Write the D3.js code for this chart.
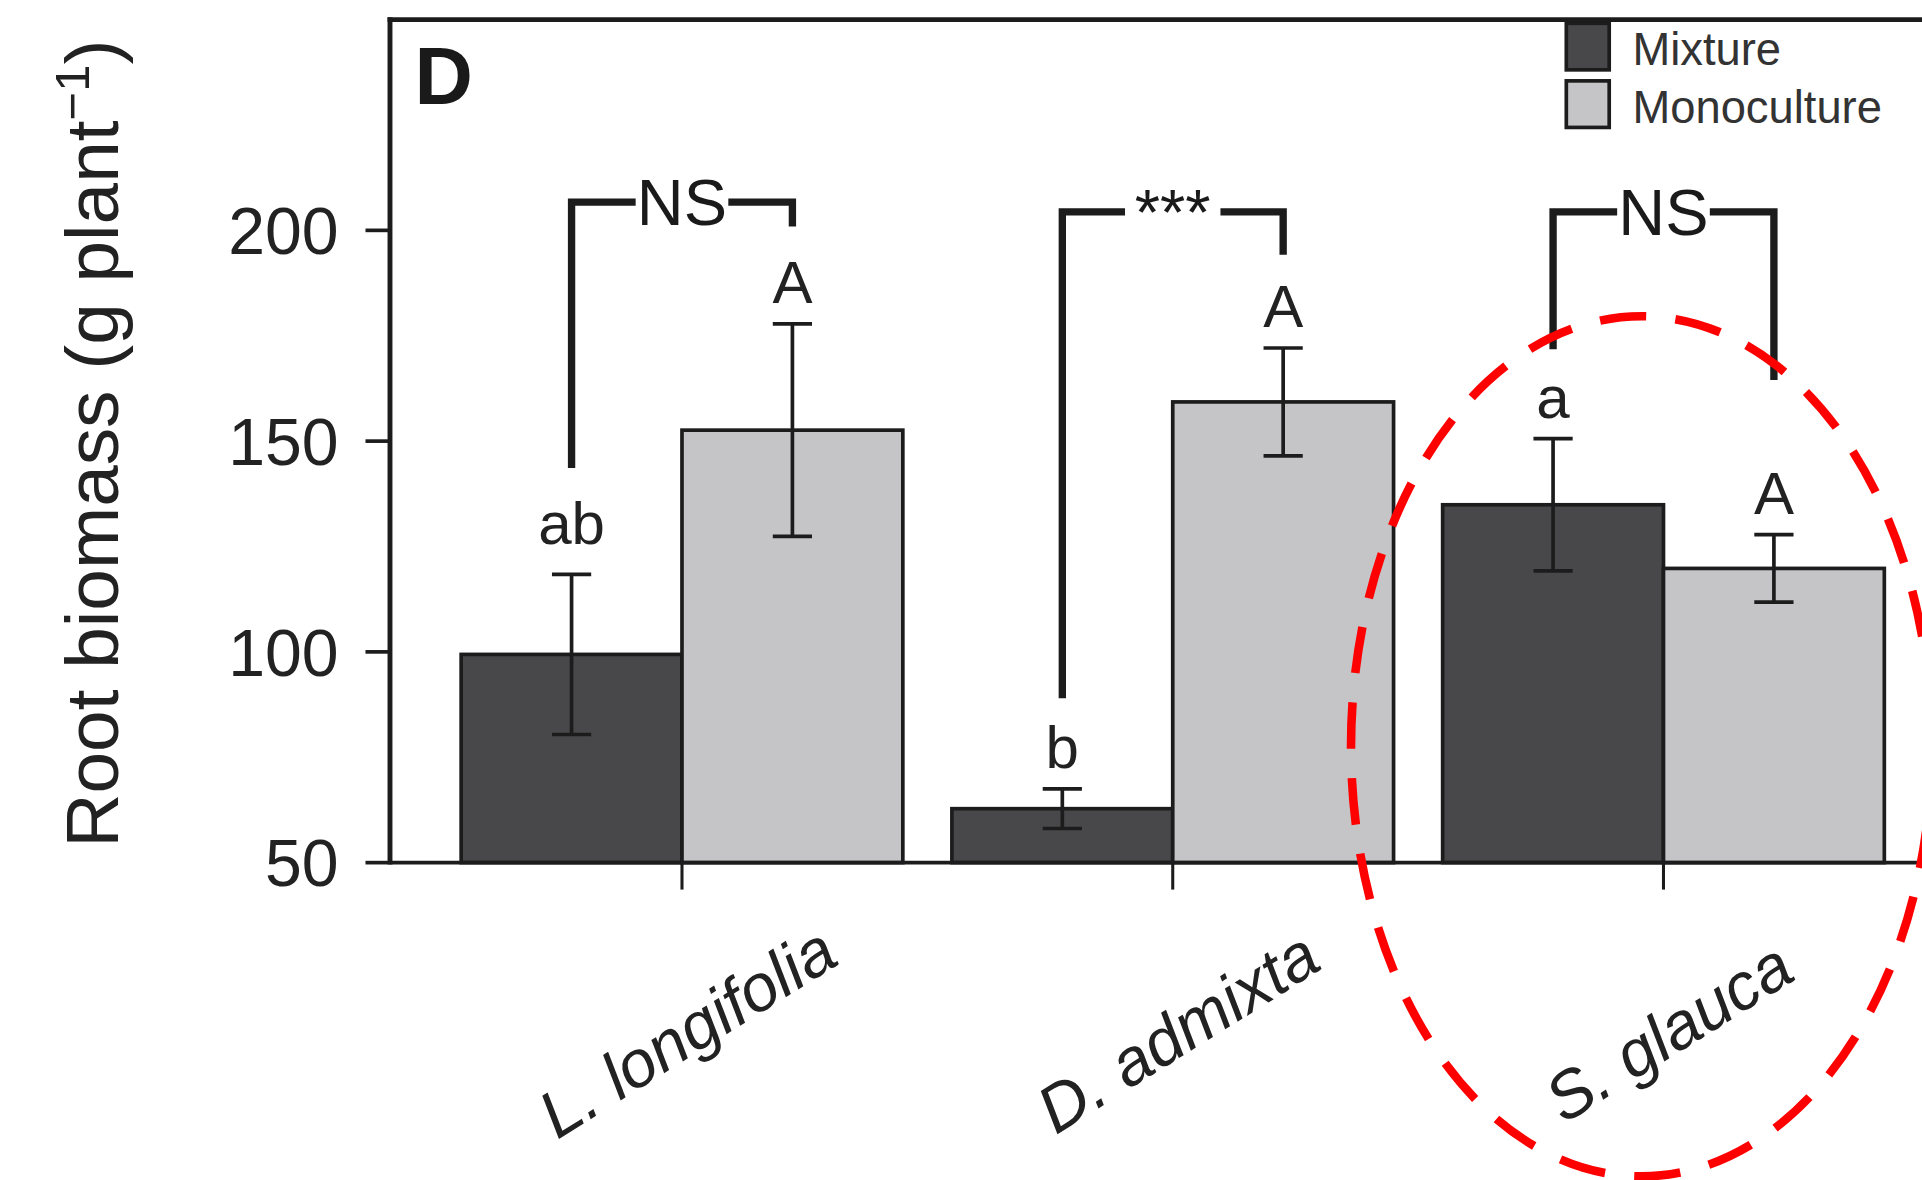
<!DOCTYPE html>
<html>
<head>
<meta charset="utf-8">
<script src="https://cdn.jsdelivr.net/npm/d3@7"></script>
<style>
html, body { margin: 0; padding: 0; background: #fff; }
svg { display: block; font-family: "Liberation Sans", Arial, Helvetica, sans-serif; }
</style>
</head>
<body>
<script>
// Root biomass, panel D: mixture vs monoculture per species

// ---- data ----
var species = ["L. longifolia", "D. admixta", "S. glauca"];
var treatments = ["Mixture", "Monoculture"];
var mixtureMean = [99.4, 62.8, 134.9];
var mixtureErr = [19.0, 4.7, 15.7];
var monoMean = [152.6, 159.3, 119.8];
var monoErr = [25.2, 12.8, 8.0];
var mixtureLetters = ["ab", "b", "a"];
var monoLetters = ["A", "A", "A"];
var sigLabels = ["NS", "***", "NS"];
var bracketTop = [206.7, 204.4, 204.4];
var bracketLeftEnd = [143.6, 89.0, 171.8];
var bracketRightEnd = [200.9, 194.2, 164.5];
var yTicks = [50, 100, 150, 200];

// drawing is laid out on a 1568 x 963 grid, then scaled up to the window
var W = 1568, H = 963;
var plotLeft = 318, plotTop = 16, plotBottom = 704;

var svg = d3.select("body").append("svg")
    .attr("width", 1922)
    .attr("height", 1180)
    .attr("viewBox", "0 0 " + W + " " + H);

var y = d3.scaleLinear().domain([50, 250]).range([plotBottom, plotTop]);

var x0 = d3.scaleBand()
    .domain(species)
    .range([plotLeft, 1595.6])
    .paddingInner(0.1)
    .paddingOuter(0.145);

var x1 = d3.scaleBand()
    .domain(treatments)
    .range([0, x0.bandwidth()]);

var fills = { "Mixture": "#48484a", "Monoculture": "#c5c5c8" };
var ink = "#1c1c1c";

var rows = [];
species.forEach(function(s, i) {
    rows.push({ sp: s, tr: "Mixture", mean: mixtureMean[i], err: mixtureErr[i], letter: mixtureLetters[i] });
    rows.push({ sp: s, tr: "Monoculture", mean: monoMean[i], err: monoErr[i], letter: monoLetters[i] });
});

function cx(d) { return x0(d.sp) + x1(d.tr) + x1.bandwidth() / 2; }

// bars
svg.append("g").selectAll("rect")
    .data(rows)
    .enter().append("rect")
    .attr("x", function(d) { return x0(d.sp) + x1(d.tr); })
    .attr("y", function(d) { return y(d.mean); })
    .attr("width", x1.bandwidth())
    .attr("height", function(d) { return y(50) - y(d.mean); })
    .attr("fill", function(d) { return fills[d.tr]; })
    .attr("stroke", ink)
    .attr("stroke-width", 3);

// error bars
var eb = svg.append("g").attr("stroke", ink).attr("stroke-width", 3);
rows.forEach(function(d) {
    var xc = cx(d);
    eb.append("line").attr("x1", xc).attr("x2", xc)
        .attr("y1", y(d.mean + d.err)).attr("y2", y(d.mean - d.err));
    eb.append("line").attr("x1", xc - 16).attr("x2", xc + 16)
        .attr("y1", y(d.mean + d.err)).attr("y2", y(d.mean + d.err));
    eb.append("line").attr("x1", xc - 16).attr("x2", xc + 16)
        .attr("y1", y(d.mean - d.err)).attr("y2", y(d.mean - d.err));
});

// letters above error bars
svg.append("g").selectAll("text")
    .data(rows)
    .enter().append("text")
    .attr("x", cx)
    .attr("y", function(d) { return y(d.mean + d.err) - (d.letter == "ab" ? 25 : 17); })
    .attr("text-anchor", "middle")
    .attr("font-size", 49)
    .attr("fill", "#222")
    .text(function(d) { return d.letter; });

// significance brackets
species.forEach(function(s, i) {
    var xl = x0(s) + x1("Mixture") + x1.bandwidth() / 2;
    var xr = x0(s) + x1("Monoculture") + x1.bandwidth() / 2;
    var by = y(bracketTop[i]);
    var xm = (xl + xr) / 2;

    var lab = svg.append("text")
        .attr("x", xm)
        .attr("y", by + 19)
        .attr("text-anchor", "middle")
        .attr("font-size", 53)
        .attr("fill", "#1a1a1a")
        .text(sigLabels[i]);
    var tw = lab.node().getComputedTextLength();
    var pad = sigLabels[i] == "***" ? 8 : 1;

    svg.append("path")
        .attr("d", "M" + xl + "," + y(bracketLeftEnd[i]) + "V" + by + "H" + (xm - tw / 2 - pad))
        .attr("fill", "none").attr("stroke", ink).attr("stroke-width", 6)
        .attr("stroke-linejoin", "miter");
    svg.append("path")
        .attr("d", "M" + (xm + tw / 2 + pad) + "," + by + "H" + xr + "V" + y(bracketRightEnd[i]))
        .attr("fill", "none").attr("stroke", ink).attr("stroke-width", 6)
        .attr("stroke-linejoin", "miter");
});

// frame: top and left lines, x axis line
svg.append("line").attr("x1", plotLeft - 2).attr("x2", W + 40).attr("y1", plotTop).attr("y2", plotTop)
    .attr("stroke", ink).attr("stroke-width", 4);
svg.append("line").attr("x1", plotLeft).attr("x2", plotLeft).attr("y1", plotTop - 2).attr("y2", plotBottom + 1.5)
    .attr("stroke", ink).attr("stroke-width", 4);
svg.append("line").attr("x1", plotLeft).attr("x2", W + 40).attr("y1", plotBottom).attr("y2", plotBottom)
    .attr("stroke", ink).attr("stroke-width", 3);

// y axis ticks + labels
var yAxis = svg.append("g");
yTicks.forEach(function(t) {
    yAxis.append("line").attr("x1", plotLeft - 20).attr("x2", plotLeft)
        .attr("y1", y(t)).attr("y2", y(t))
        .attr("stroke", ink).attr("stroke-width", 3);
    yAxis.append("text")
        .attr("x", plotLeft - 42)
        .attr("y", y(t))
        .attr("dy", "0.36em")
        .attr("text-anchor", "end")
        .attr("font-size", 54)
        .attr("fill", "#222")
        .text(t);
});

// x ticks + rotated italic labels
species.forEach(function(s) {
    var xc = x0(s) + x0.bandwidth() / 2;
    svg.append("line").attr("x1", xc).attr("x2", xc)
        .attr("y1", plotBottom).attr("y2", plotBottom + 22)
        .attr("stroke", ink).attr("stroke-width", 2.5);
    svg.append("text")
        .attr("transform", "translate(" + (xc + 4) + "," + 842 + ") rotate(-32)")
        .attr("text-anchor", "middle")
        .attr("dy", "0.35em")
        .attr("font-size", 54)
        .attr("font-style", "italic")
        .attr("fill", "#222")
        .text(s);
});

// y title
var yTitle = svg.append("text")
    .attr("transform", "translate(96," + 362 + ") rotate(-90)")
    .attr("text-anchor", "middle")
    .attr("font-size", 61)
    .attr("fill", "#222");
yTitle.append("tspan").text("Root biomass (g plant");
yTitle.append("tspan").attr("dy", -24).attr("font-size", 40).text("\u22121");
yTitle.append("tspan").attr("dy", 24).text(")");

// panel letter
svg.append("text")
    .attr("x", 338).attr("y", 85)
    .attr("font-size", 66)
    .attr("font-weight", "bold")
    .attr("fill", "#1a1a1a")
    .text("D");

// legend
var lg = svg.append("g");
treatments.forEach(function(t, i) {
    lg.append("rect")
        .attr("x", 1278).attr("y", 19 + i * 47)
        .attr("width", 35).attr("height", 38)
        .attr("fill", fills[t]).attr("stroke", ink).attr("stroke-width", 3);
    lg.append("text")
        .attr("x", 1332).attr("y", 40 + i * 47)
        .attr("dy", "0.36em")
        .attr("font-size", 37)
        .attr("fill", "#333")
        .text(t);
});

// red dashed ellipse annotation around S. glauca
svg.append("ellipse")
    .attr("cx", x0("S. glauca") + x0.bandwidth() / 2 - 18)
    .attr("cy", y(77.6))
    .attr("rx", 237)
    .attr("ry", 351)
    .attr("fill", "none")
    .attr("stroke", "#ff0000")
    .attr("stroke-width", 7)
    .attr("stroke-dasharray", "38 24");
</script>
</body>
</html>
